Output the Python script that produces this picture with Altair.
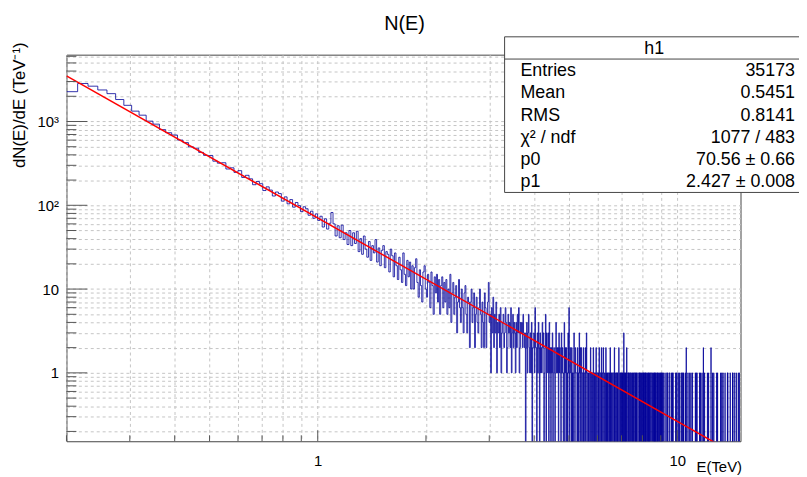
import altair as alt
import pandas as pd

# ---------------- data ----------------
X_MIN, X_MAX, N_BINS = 0.2, 15.0, 1000
Y_MIN, Y_MAX = 0.1527, 6278.0

# bin contents, bins 0..54 (E 0.2 - 1.0)
counts_low = [2270, 2840, 2640, 2380, 2150, 1830, 1560, 1330, 1190, 1010,
              930, 800, 735, 690, 600, 560, 498, 480, 428, 395,
              392, 336, 318, 322, 271, 280, 247, 259, 215, 228,
              207, 176, 192, 181, 150, 166, 152, 129, 144, 138,
              112, 126, 104, 117, 95, 108, 99, 84, 96, 91,
              76, 85, 70, 79, 66]
# bins 55..199 (E 1.0 - 3.15)
counts_mid = [74, 55, 69, 52, 61, 82, 60, 43, 57, 41,
              58, 39, 47, 34, 50, 33, 47, 35, 49, 28,
              40, 26, 43, 30, 24, 37, 22, 33, 27, 39,
              21, 31, 19, 29, 33, 18, 28, 26, 16, 30,
              25, 14, 27, 19, 13, 24, 17, 12, 27, 15,
              11, 22, 14, 21, 10, 19, 10, 18, 23, 12,
              8, 17, 11, 7, 16, 19, 10, 8, 15, 12,
              6, 16, 11, 5, 14, 9, 15, 7, 13, 5,
              11, 14, 6, 12, 7, 13, 5, 10, 6, 15,
              4, 9, 12, 5, 8, 11, 3, 7, 13, 6,
              4, 10, 6, 3, 9, 11, 5, 3, 8, 7,
              2, 7, 10, 4, 6, 9, 2, 5, 8, 4,
              3, 6, 10, 5, 2, 7, 4, 2, 9, 6,
              2, 5, 7, 12, 4, 5, 1, 6, 3, 8,
              2, 5, 3, 7, 1]
# bins 200..999 (E 3.15 - 15), one digit per bin
counts_tail = """
4352613452 3641253426 1352431425 3612434253 2302413521 3140223162 2031420312 1423012503
2130412021 3012102412 1203121031 2101402120 1031601210 2010131021 1102010312 0120110201
1021301101 0110210110 1201011020 0110102101 1020110210 0101201010 1100102011 0110011020
1001101010 0210010110 1010103101 0101021001 1010010110 0100101001 1001010100 0110001010
1000101001 0101001010 1000100101 0010110001 1001000101 0100101000 1010001001 0001010010
1000100000 0100000011 0010000001 1000000100 0100100000 0000010001 1000001000 0100000001
0001000100 1000000010 0020000000 1000000010 0000100000 0100000000 0000010001 0001000000
0000001000 1000000010 0000020000 0100000000 0000001000 0010000000 0000020000 0001000000
1000000000 0000001000 0100000000 0000000010 0000010000 0010000000 0000100000 0000000010
1000000000 0000010000 0000000001 0100000000 0001000000 0000010000 0000000010 0100000000
"""
counts = counts_low + counts_mid + [int(ch) for grp in counts_tail.split() for ch in grp]
assert len(counts) == N_BINS, len(counts)

# fit result (from the stats box)
P0, P1 = 70.56, 2.427

stat_title = "h1"
stat_names = ["Entries", "Mean", "RMS", "\u03c7\u00b2 / ndf", "p0", "p1"]
stat_values = ["35173", "0.5451", "0.8141", "1077 / 483", "70.56 \u00b1 0.66", "2.427 \u00b1 0.008"]

x_major = [1, 10]
x_minor = [0.2, 0.3, 0.4, 0.5, 0.6, 0.7, 0.8, 0.9, 2, 3, 4, 5, 6, 7, 8, 9]
y_major = [1, 10, 100, 1000]
y_minor = ([m / 10 for m in range(2, 10)] + list(range(2, 10)) + list(range(20, 100, 10))
           + list(range(200, 1000, 100)) + list(range(2000, 7000, 1000)))

# ---------------- tables ----------------
bw = (X_MAX - X_MIN) / N_BINS
edges = [X_MIN + i * bw for i in range(N_BINS)] + [X_MAX]
hist = pd.DataFrame({"E": edges, "n": counts + [counts[-1]]})
fit = pd.DataFrame({"E": [X_MIN, X_MAX], "f": [P0 * X_MIN ** (-P1), P0 * X_MAX ** (-P1)]})

FONT = "Liberation Sans"
GRID = "#c4c4c4"
TICK = "#555555"
W, H = 680, 390

xs = alt.Scale(type="log", domain=[X_MIN, X_MAX], nice=False)
ys = alt.Scale(type="log", domain=[Y_MIN, Y_MAX], nice=False)

x_axis = alt.Axis(values=sorted(x_minor + x_major),
                  labelExpr="datum.value == 1 ? '1' : (datum.value == 10 ? '10' : '')",
                  grid=True, gridColor=GRID, gridDash=[3, 3], gridWidth=1,
                  domain=False, ticks=False, labelFont=FONT, labelFontSize=15,
                  labelColor="black", labelPadding=12, labelOverlap=False, labelFlush=False,
                  title="E(TeV)", titleFont=FONT, titleFontSize=15, titleFontWeight="normal",
                  titleColor="black", titleX=W + 1, titleY=31, titleAlign="right",
                  titleBaseline="alphabetic")
y_axis = alt.Axis(values=sorted(y_minor + y_major),
                  labelExpr=("datum.value == 1 ? '1' : datum.value == 10 ? '10' : "
                             "datum.value == 100 ? '10\u00b2' : datum.value == 1000 ? '10\u00b3' : ''"),
                  grid=True, gridColor=GRID, gridDash=[3, 3], gridWidth=1,
                  domain=False, ticks=False, labelFont=FONT, labelFontSize=15,
                  labelColor="black", labelPadding=8, labelOverlap=False, labelFlush=False,
                  labelBaseline="middle",
                  title="dN(E)/dE (TeV\u207b\u00b9)", titleFont=FONT, titleFontSize=17,
                  titleFontWeight="normal", titleColor="black", titleAngle=270,
                  titleX=-47, titleY=-13, titleAlign="right", titleBaseline="middle")


def X(f):
    return alt.X(f, type="quantitative", scale=xs, axis=x_axis)


def Y(f):
    return alt.Y(f, type="quantitative", scale=ys, axis=y_axis)


hist_layer = alt.Chart(hist).transform_calculate(
    yv="max(datum.n, 0.01)"
).mark_line(interpolate="step-after", color="#000099", strokeWidth=0.8, clip=True).encode(
    x=X("E"), y=Y("yv"))

fit_layer = alt.Chart(fit).mark_line(color="#ff0000", strokeWidth=1.5, clip=True).encode(
    x=X("E"), y=Y("f"))

ytm = alt.Chart(pd.DataFrame({"v": y_major})).mark_rule(color=TICK).encode(
    y=Y("v"), x=alt.value(0), x2=alt.value(21))
ytn = alt.Chart(pd.DataFrame({"v": y_minor})).mark_rule(color=TICK).encode(
    y=Y("v"), x=alt.value(0), x2=alt.value(10))
xtm = alt.Chart(pd.DataFrame({"v": x_major})).mark_rule(color=TICK).encode(
    x=X("v"), y=alt.value(H), y2=alt.value(H - 11))
xtn = alt.Chart(pd.DataFrame({"v": x_minor})).mark_rule(color=TICK).encode(
    x=X("v"), y=alt.value(H), y2=alt.value(H - 6))

one = pd.DataFrame({"a": [0]})
title = alt.Chart(one).mark_text(font=FONT, fontSize=20, baseline="middle", align="center",
                                 color="black").encode(
    x=alt.value(341), y=alt.value(-31), text=alt.value("N(E)"))

# stats box: 7 equal lines (title + 6 rows)
BX0, BX1, BY0, BY1 = 442, 760, -18, 139
LH = (BY1 - BY0) / 7.0
box = alt.Chart(one).mark_rect(fill="white", stroke="#444444", strokeWidth=1).encode(
    x=alt.value(BX0), x2=alt.value(BX1), y=alt.value(BY0), y2=alt.value(BY1))
sep = alt.Chart(one).mark_rule(color="#444444").encode(
    x=alt.value(BX0), x2=alt.value(BX1), y=alt.value(BY0 + LH))
stat_layers = [box, sep,
               alt.Chart(one).mark_text(font=FONT, fontSize=18, baseline="middle", align="center",
                                        color="black").encode(
                   x=alt.value(593), y=alt.value(BY0 + LH / 2 + 1), text=alt.value(stat_title))]
for k, (nm, vl) in enumerate(zip(stat_names, stat_values)):
    yy = BY0 + LH * (k + 1.5) + 1
    stat_layers.append(alt.Chart(one).mark_text(font=FONT, fontSize=18, baseline="middle",
                                                align="left", color="black").encode(
        x=alt.value(458), y=alt.value(yy), text=alt.value(nm)))
    stat_layers.append(alt.Chart(one).mark_text(font=FONT, fontSize=18, baseline="middle",
                                                align="right", color="black").encode(
        x=alt.value(735), y=alt.value(yy), text=alt.value(vl)))

chart = alt.layer(hist_layer, fit_layer, ytm, ytn, xtm, xtn, title, *stat_layers).properties(
    width=W, height=H,
    padding={"left": 59, "top": 45, "right": 59, "bottom": 34},
    autosize=alt.AutoSizeParams(type="none"),
).configure_view(stroke="#444444", strokeWidth=1)

chart.save("out.html", embed_options={"renderer": "svg", "actions": False})
